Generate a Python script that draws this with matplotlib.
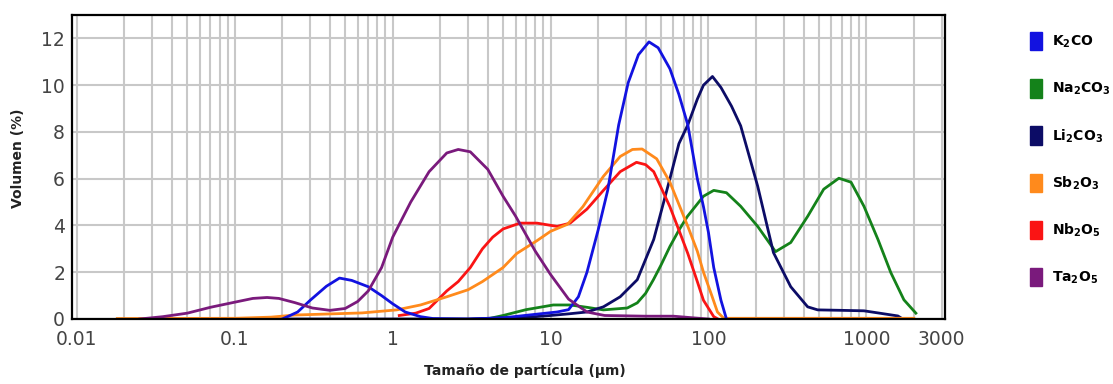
import matplotlib
matplotlib.use('Agg')
import matplotlib.pyplot as plt
from matplotlib.patches import Patch
from matplotlib.ticker import LogLocator, NullFormatter

plt.rcParams['mathtext.default'] = 'bf'

# particle size (um) / volume (%)
ta_x = [0.025, 0.035, 0.05, 0.07, 0.1, 0.13, 0.16, 0.19, 0.24, 0.31, 0.4, 0.5, 0.6, 0.7, 0.85,
        1.0, 1.3, 1.7, 2.2, 2.6, 3.1, 4.0, 5.0, 6.0, 8.0, 10, 13, 17, 22, 40, 60, 80, 100]
ta_y = [0, 0.1, 0.25, 0.5, 0.72, 0.88, 0.92, 0.88, 0.7, 0.47, 0.37, 0.45, 0.75, 1.2, 2.2,
        3.5, 5.0, 6.3, 7.1, 7.25, 7.15, 6.4, 5.25, 4.4, 2.9, 1.9, 0.85, 0.3, 0.15, 0.12, 0.12, 0.05, 0]

k_x = [0.2, 0.25, 0.3, 0.38, 0.46, 0.55, 0.7, 0.85, 1.0, 1.2, 1.5, 1.8, 3, 5, 8, 11, 13, 15, 17,
       20, 23, 27, 31, 36, 42, 48, 57, 65, 74, 85, 93, 100, 108, 120, 130]
k_y = [0, 0.3, 0.8, 1.4, 1.75, 1.65, 1.38, 1.0, 0.65, 0.3, 0.1, 0.02, 0, 0.05, 0.2, 0.3, 0.4, 0.95, 2.0,
       3.8, 5.5, 8.3, 10.1, 11.3, 11.85, 11.6, 10.7, 9.6, 8.3, 6.0, 4.8, 3.7, 2.2, 0.8, 0]

li_x = [0.17, 1, 3, 5, 8, 10, 13, 17, 21.6, 27.6, 35.4, 45, 57, 65, 74, 85, 93, 106, 120, 140,
        160, 205, 258, 332, 425, 492, 700, 966, 1185, 1585, 1700]
li_y = [0, 0, 0, 0.05, 0.1, 0.15, 0.22, 0.3, 0.52, 0.95, 1.68, 3.4, 6.0, 7.5, 8.3, 9.4, 10.0, 10.37, 9.9, 9.1,
        8.26, 5.68, 2.84, 1.38, 0.52, 0.39, 0.37, 0.35, 0.26, 0.13, 0]

na_x = [3.96, 5, 7, 10.4, 13.3, 17, 21.6, 30.6, 35.4, 40, 44.8, 50, 57, 65, 73.6, 93, 108, 130,
        160, 205, 266, 332, 425, 537, 670, 800, 966, 1185, 1430, 1730, 2060]
na_y = [0, 0.15, 0.4, 0.6, 0.6, 0.5, 0.39, 0.47, 0.69, 1.1, 1.68, 2.3, 3.1, 3.8, 4.39, 5.25, 5.5, 5.4,
        4.82, 3.96, 2.88, 3.27, 4.39, 5.55, 6.02, 5.85, 4.82, 3.4, 1.98, 0.82, 0.25]

sb_x = [0.018, 0.1, 0.17, 0.24, 0.64, 1.06, 1.5, 2.2, 3.0, 3.7, 5, 6.1, 8.2, 10, 12.8, 16, 21.6,
        27.6, 33, 38, 47, 57, 65, 74, 85, 93, 105, 114, 125, 2000]
sb_y = [0.02, 0.03, 0.08, 0.17, 0.26, 0.39, 0.6, 0.95, 1.25, 1.6, 2.2, 2.8, 3.35, 3.75, 4.05, 4.8, 6.1,
        6.95, 7.25, 7.27, 6.85, 5.85, 4.9, 3.96, 2.9, 2.0, 1.0, 0.3, 0.03, 0.03]

nb_x = [1.1, 1.4, 1.7, 2.2, 2.6, 3.1, 3.7, 4.3, 5, 6.4, 8.2, 11, 13.3, 17, 21.6, 27.6, 35, 40, 45,
        57, 65, 74, 85, 93, 108, 115]
nb_y = [0.15, 0.25, 0.45, 1.2, 1.6, 2.2, 3.0, 3.5, 3.85, 4.1, 4.1, 3.96, 4.1, 4.7, 5.5, 6.3, 6.7, 6.6, 6.3,
        4.8, 3.8, 2.8, 1.6, 0.8, 0.1, 0]

labels = ['K$_2$CO', 'Na$_2$CO$_3$', 'Li$_2$CO$_3$', 'Sb$_2$O$_3$', 'Nb$_2$O$_5$', 'Ta$_2$O$_5$']
colors = ['#1212e0', '#14821a', '#0c0c66', '#ff8a1c', '#fa1414', '#7a1a7c']

x_ticks = [0.01, 0.1, 1, 10, 100, 1000, 3000]
x_ticklabels = ['0.01', '0.1', '1', '10', '100', '1000', '3000']

fig = plt.figure(figsize=(11.13, 3.84), dpi=100)
ax = fig.add_axes([72 / 1113, 1 - 319 / 384, 873 / 1113, 304 / 384])

lw = 2.0
ax.plot(na_x, na_y, color=colors[1], lw=lw)
ax.plot(li_x, li_y, color=colors[2], lw=lw)
ax.plot(nb_x, nb_y, color=colors[4], lw=lw)
ax.plot(sb_x, sb_y, color=colors[3], lw=lw)
ax.plot(k_x, k_y, color=colors[0], lw=lw)
ax.plot(ta_x, ta_y, color=colors[5], lw=lw)

ax.set_xscale('log')
ax.set_xlim(0.0093, 3150)
ax.set_ylim(0, 13)
ax.set_xticks(x_ticks, x_ticklabels)
ax.xaxis.set_minor_locator(LogLocator(base=10, subs=range(2, 10)))
ax.xaxis.set_minor_formatter(NullFormatter())
ax.set_yticks(range(0, 13, 2))

ax.grid(True, which='both', color='#c8c8c8', lw=1.5)
ax.set_axisbelow(True)
ax.tick_params(which='both', length=0)
ax.tick_params(axis='x', pad=8, labelsize=13.5, labelcolor='#444444')
ax.tick_params(axis='y', pad=5, labelsize=13.5, labelcolor='#444444')
for s in ax.spines.values():
    s.set_color('black')
    s.set_linewidth(1.6)

ax.set_xlabel('Tamaño de partícula (µm)', fontsize=10, fontweight='bold', color='#222222')
ax.xaxis.set_label_coords(0.519, -0.145)
ax.set_ylabel('Volumen (%)', fontsize=10, fontweight='bold', color='#222222')
ax.yaxis.set_label_coords(-0.054, 0.53)

fs = 10
handles = [Patch(color=c) for c in colors]
fig.legend(handles, labels, loc='upper left', bbox_to_anchor=(1030 / 1113, 1 - 32 / 384),
           frameon=False, prop={'weight': 'bold', 'size': fs},
           handlelength=12 / 13.9, handleheight=23 / 13.9, handletextpad=10 / 13.9,
           labelspacing=2.08, borderpad=0, borderaxespad=0)

fig.savefig('out.png', dpi=100)
